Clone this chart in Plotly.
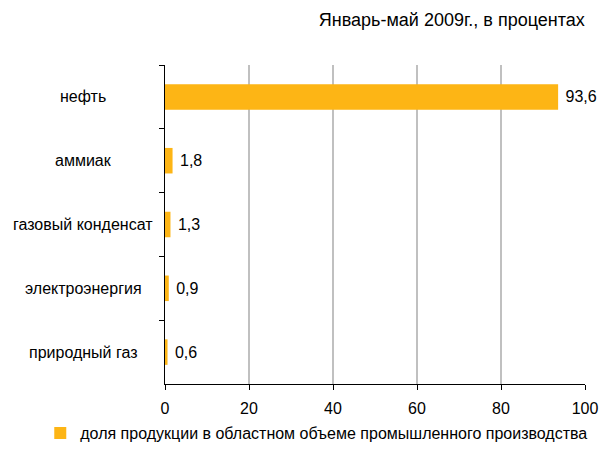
import plotly.graph_objects as go

categories = ['нефть', 'аммиак', 'газовый конденсат', 'электроэнергия', 'природный газ']
values = [93.6, 1.8, 1.3, 0.9, 0.6]
x_ticks = [0, 20, 40, 60, 80, 100]

labels = ['\u00a0' + f"{v:.1f}".replace('.', ',') for v in values]

fig = go.Figure()
fig.add_trace(go.Bar(
    y=categories, x=values, orientation='h',
    marker=dict(color='#FDB515', line=dict(width=0)),
    text=labels, textposition='outside', cliponaxis=False,
    textfont=dict(size=16, color='black'),
    name='доля продукции в областном объеме промышленного производства',
    showlegend=True,
))

# подписи категорий по центру слева от оси
for c in categories:
    fig.add_annotation(x=-0.195, xref='paper', y=c, yref='y', text=c,
                       showarrow=False, xanchor='center',
                       font=dict(size=16, color='black'))

fig.update_xaxes(range=[0, 100], tickvals=x_ticks, showgrid=True,
                 gridcolor='#C0C0C0', gridwidth=2, zeroline=False,
                 showline=True, linecolor='black', linewidth=1,
                 ticks='outside', ticklen=5, tickcolor='black',
                 ticklabelstandoff=5, automargin=False,
                 tickfont=dict(size=16, color='black'))
fig.update_yaxes(autorange='reversed', showline=True, linecolor='black',
                 linewidth=1, ticks='outside', tickson='boundaries',
                 ticklen=5, tickcolor='black', showgrid=False,
                 showticklabels=False, automargin=False)

fig.update_layout(
    width=601, height=450,
    font=dict(family='Liberation Sans, Arial', size=16, color='black'),
    plot_bgcolor='white', paper_bgcolor='white',
    margin=dict(l=165, r=16, t=65, b=66, pad=0),
    bargap=0.6,
    title=dict(text='Январь-май 2009г., в процентах', x=0.973, xanchor='right',
               y=0.956, yanchor='middle', font=dict(size=18, color='black')),
    legend=dict(orientation='h', xref='container', yref='container',
                x=0.067, xanchor='left', y=-0.016, yanchor='bottom',
                bgcolor='rgba(0,0,0,0)',
                font=dict(size=16, color='black')),
)

# убираем отступ страницы, чтобы фигура стояла в углу окна
fig.write_html("out.html", config={'displayModeBar': False},
               post_script="document.body.style.margin='0';"
                           "document.body.style.overflow='hidden';")
